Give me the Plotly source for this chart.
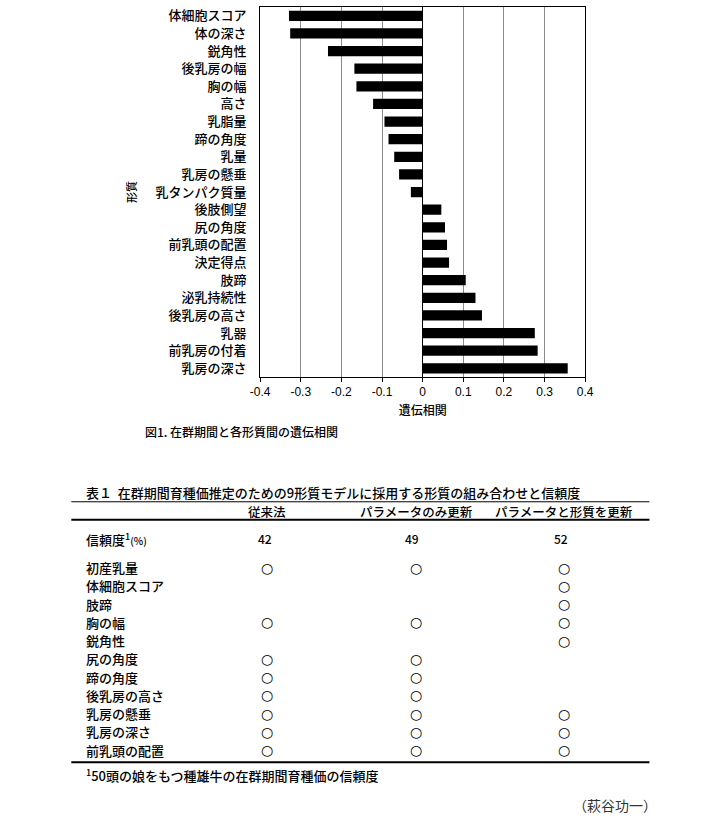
import plotly.graph_objects as go

traits = ["体細胞スコア", "体の深さ", "鋭角性", "後乳房の幅", "胸の幅", "高さ", "乳脂量",
          "蹄の角度", "乳量", "乳房の懸垂", "乳タンパク質量", "後肢側望", "尻の角度",
          "前乳頭の配置", "決定得点", "肢蹄", "泌乳持続性", "後乳房の高さ", "乳器",
          "前乳房の付着", "乳房の深さ"]
corr = [-0.329, -0.326, -0.233, -0.168, -0.163, -0.122, -0.094, -0.084, -0.070, -0.058,
        -0.029, 0.046, 0.055, 0.060, 0.065, 0.106, 0.130, 0.146, 0.276, 0.283, 0.357]
x_ticks = [-0.4, -0.3, -0.2, -0.1, 0, 0.1, 0.2, 0.3, 0.4]
x_tick_labels = ["-0.4", "-0.3", "-0.2", "-0.1", "0", "0.1", "0.2", "0.3", "0.4"]

table_title = "表１  在群期間育種価推定のための9形質モデルに採用する形質の組み合わせと信頼度"
methods = ["従来法", "パラメータのみ更新", "パラメータと形質を更新"]
reliability = [42, 49, 52]
table_traits = ["初産乳量", "体細胞スコア", "肢蹄", "胸の幅", "鋭角性", "尻の角度",
                "蹄の角度", "後乳房の高さ", "乳房の懸垂", "乳房の深さ", "前乳頭の配置"]
used_conventional = [1, 0, 0, 1, 0, 1, 1, 1, 1, 1, 1]
used_param_only = [1, 0, 0, 1, 0, 1, 1, 1, 1, 1, 1]
used_param_trait = [1, 1, 1, 1, 1, 0, 0, 0, 1, 1, 1]

W, H = 710, 820
FONT = "Noto Sans CJK JP"
WT = 500


def px(x):
    return x / W


def py(y):
    return 1 - y / H


fig = go.Figure()
fig.add_trace(go.Bar(
    x=corr, y=traits, orientation="h",
    marker=dict(color="black", line=dict(width=0)),
    width=0.58, showlegend=False,
))

fig.update_layout(
    width=W, height=H,
    margin=dict(l=0, r=0, t=0, b=0),
    paper_bgcolor="white", plot_bgcolor="white",
    font=dict(family=FONT, size=12, color="black"),
    xaxis=dict(
        domain=[px(257), px(591)],
        range=[-0.4, 0.4],
        tickvals=x_ticks, ticktext=x_tick_labels,
        showgrid=True, gridcolor="#8c8c8c", gridwidth=1,
        zeroline=True, zerolinecolor="black", zerolinewidth=1,
        showline=True, linecolor="black", linewidth=1, mirror=True,
        ticks="outside", ticklen=4, tickcolor="black",
        tickfont=dict(family="Liberation Sans", size=12),
        title=dict(text="遺伝相関", font=dict(family=FONT, size=12, weight=WT), standoff=8),
        anchor="y",
    ),
    yaxis=dict(
        domain=[py(376), py(5)],
        categoryorder="array", categoryarray=traits,
        autorange="reversed",
        showgrid=False,
        showline=True, linecolor="black", linewidth=1, mirror=True,
        ticks="", ticklabelstandoff=10,
        tickfont=dict(family=FONT, size=13, weight=WT),
        title=dict(text="形質", font=dict(family=FONT, size=11, weight=WT), standoff=16),
    ),
    bargap=0.4,
)

ann = []
shapes = []

# figure caption
ann.append(dict(x=px(137), y=py(431), xref="paper", yref="paper", text="図1. 在群期間と各形質間の遺伝相関",
                showarrow=False, xanchor="left", yanchor="middle", font=dict(family=FONT, size=12, weight=WT)))

# table title
ann.append(dict(x=px(76), y=py(492), xref="paper", yref="paper", text=table_title,
                showarrow=False, xanchor="left", yanchor="middle", font=dict(family=FONT, size=13, weight=WT)))

# table rules
shapes.append(dict(type="line", xref="paper", yref="paper", x0=px(63), x1=px(657), y0=py(501), y1=py(501),
                   line=dict(color="black", width=1)))
shapes.append(dict(type="line", xref="paper", yref="paper", x0=px(63), x1=px(657), y0=py(519), y1=py(519),
                   line=dict(color="black", width=2)))
shapes.append(dict(type="line", xref="paper", yref="paper", x0=px(63), x1=px(657), y0=py(762), y1=py(762),
                   line=dict(color="black", width=2)))

head_x = [264, 418, 569]
num_x = [262, 413, 566]
circ_x = [264, 417, 569]
for cx, m in zip(head_x, methods):
    ann.append(dict(x=px(cx), y=py(511), xref="paper", yref="paper", text=m, showarrow=False,
                    xanchor="center", yanchor="middle", font=dict(family=FONT, size=12.5, weight=WT)))

ann.append(dict(x=px(76), y=py(538), xref="paper", yref="paper",
                text="信頼度<sup>1</sup><span style='font-size:10px'>(%)</span>", showarrow=False,
                xanchor="left", yanchor="middle", font=dict(family=FONT, size=13, weight=WT)))
for cx, r in zip(num_x, reliability):
    ann.append(dict(x=px(cx), y=py(538), xref="paper", yref="paper", text=str(r), showarrow=False,
                    xanchor="center", yanchor="middle", font=dict(family=FONT, size=12, weight=WT)))

row_y0, row_dy = 567, 18.3
for i, t in enumerate(table_traits):
    yy = row_y0 + i * row_dy
    ann.append(dict(x=px(76), y=py(yy), xref="paper", yref="paper", text=t, showarrow=False,
                    xanchor="left", yanchor="middle", font=dict(family=FONT, size=13, weight=WT)))
    for cx, col in zip(circ_x, [used_conventional, used_param_only, used_param_trait]):
        if col[i]:
            ann.append(dict(x=px(cx), y=py(yy), xref="paper", yref="paper", text="○", showarrow=False,
                            xanchor="center", yanchor="middle", font=dict(family="DejaVu Sans", size=14)))

ann.append(dict(x=px(76), y=py(775), xref="paper", yref="paper",
                text="<sup>1</sup>50頭の娘をもつ種雄牛の在群期間育種価の信頼度", showarrow=False,
                xanchor="left", yanchor="middle", font=dict(family=FONT, size=13, weight=WT)))
ann.append(dict(x=px(667), y=py(805), xref="paper", yref="paper", text="（萩谷功一）", showarrow=False,
                xanchor="right", yanchor="middle", font=dict(family=FONT, size=14, color="#333333")))

fig.update_layout(annotations=ann, shapes=shapes)
fig.write_html("out.html", post_script="document.body.style.margin='0px';",
               config={"displayModeBar": False})
